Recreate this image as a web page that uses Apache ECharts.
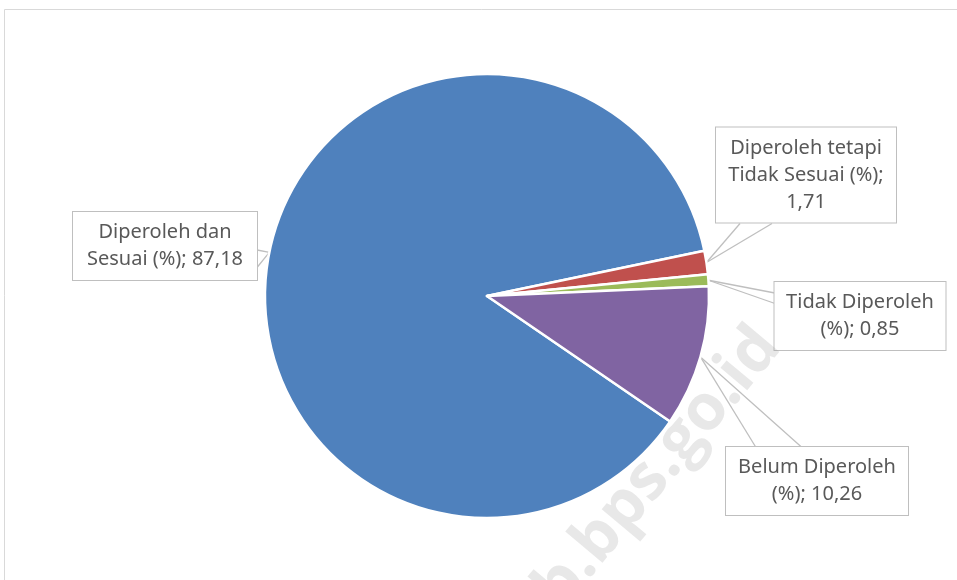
<!DOCTYPE html>
<html>
<head>
<meta charset="utf-8">
<script src="https://cdn.jsdelivr.net/npm/echarts@6/dist/echarts.min.js"></script>
<style>
    html, body { margin: 0; padding: 0; background: #fff; }
    #chart { width: 957px; height: 580px; }
</style>
</head>
<body>
<div id="chart"></div>
<script>
    // data
    const names = ['Diperoleh dan Sesuai', 'Diperoleh tetapi Tidak Sesuai', 'Tidak Diperoleh', 'Belum Diperoleh'];
    const values = [87.18, 1.71, 0.85, 10.26];
    const labelTexts = [
        'Diperoleh dan\nSesuai (%); 87,18',
        'Diperoleh tetapi\nTidak Sesuai (%);\n1,71',
        'Tidak Diperoleh\n(%); 0,85',
        'Belum Diperoleh\n(%); 10,26'
    ];
    const colors = ['#4F81BD', '#C0504D', '#9BBB59', '#8064A2'];
    // callout boxes (centre, width) and the two feet of each pointer wedge
    const labelSpots = [[165, 246], [806, 175], [860, 316], [817, 481]];
    const boxWidths = [184, 180, 171, 182];
    const wedgeA = [[257, 250], [740, 223], [775, 293], [756, 448]];
    const wedgeB = [[257, 268], [772, 223], [775, 304], [802, 448]];

    const myChart = echarts.init(document.getElementById('chart'));

    const pieBase = {
        type: 'pie',
        center: [487, 296],
        radius: 222,
        startAngle: -34.4,
        clockwise: true,
        animation: false
    };

    // invisible copy of the pie, only used to draw one side of each pointer
    const guideSeries = (feet, z) => Object.assign({}, pieBase, {
        silent: true,
        z: z,
        itemStyle: { color: 'rgba(0,0,0,0)', borderWidth: 0 },
        label: {
            show: true,
            position: 'outside',
            formatter: () => ' ',
            fontSize: 1,
            padding: 0
        },
        labelLine: {
            show: true,
            length: 5,
            length2: 0,
            smooth: false,
            lineStyle: { color: '#bfbfbf', width: 1.3 }
        },
        labelLayout: (params) => {
            const p = feet[params.dataIndex];
            return { x: p[0], y: p[1], align: 'center', verticalAlign: 'middle' };
        },
        data: names.map((n, i) => ({ name: n, value: values[i] }))
    });

    const option = {
        animation: false,
        graphic: [
            {
                type: 'rect',
                shape: { x: 4.5, y: 9.5, width: 970, height: 600 },
                style: { fill: 'none', stroke: '#d9d9d9', lineWidth: 1 },
                silent: true
            },
            {
                type: 'text',
                x: 658, y: 468,
                rotation: 50 * Math.PI / 180,
                style: {
                    text: 'b.bps.go.id',
                    font: 'bold 64px "Open Sans"',
                    fill: 'rgba(150,150,150,0.22)',
                    align: 'center',
                    verticalAlign: 'middle'
                },
                z: 100,
                silent: true
            }
        ],
        series: [
            guideSeries(wedgeA, 1),
            guideSeries(wedgeB, 1),
            Object.assign({}, pieBase, {
                z: 2,
                itemStyle: {
                    borderColor: '#fff',
                    borderWidth: 2.5
                },
                label: {
                    show: true,
                    position: 'outside',
                    formatter: (p) => labelTexts[p.dataIndex],
                    fontFamily: 'Noto Sans',
                    fontSize: 20,
                    lineHeight: 27,
                    color: '#595959',
                    backgroundColor: '#fff',
                    borderColor: '#bfbfbf',
                    borderWidth: 1,
                    padding: [7, 0, 7, 0],
                    align: 'center'
                },
                labelLine: { show: false },
                labelLayout: (params) => {
                    const spot = labelSpots[params.dataIndex];
                    return {
                        x: spot[0],
                        y: spot[1],
                        align: 'center',
                        verticalAlign: 'middle'
                    };
                },
                data: names.map((n, i) => ({
                    name: n,
                    value: values[i],
                    itemStyle: { color: colors[i] },
                    label: { width: boxWidths[i] }
                }))
            })
        ]
    };

    myChart.setOption(option);
    window.onresize = () => {
        myChart.resize();
    };
</script>
</body>
</html>
